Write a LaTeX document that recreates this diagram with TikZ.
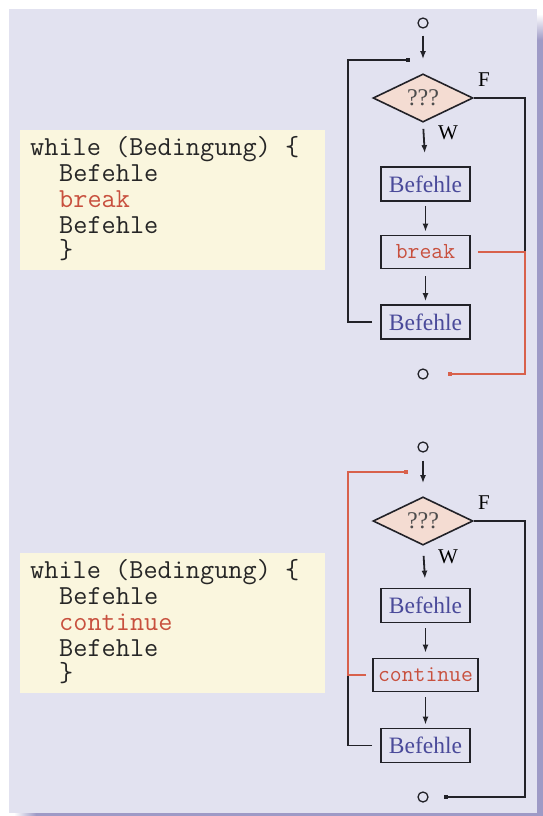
\documentclass[tikz,border=0pt]{standalone}
\usepackage{fontspec}
\setmainfont{Liberation Serif}
\usetikzlibrary{shapes.geometric,arrows.meta}

\definecolor{panelbg}{HTML}{E2E2F0}
\definecolor{shadowc}{HTML}{9E9AC6}
\definecolor{codebg}{HTML}{FAF6DE}
\definecolor{cmdblue}{HTML}{4A4A9A}
\definecolor{kwred}{HTML}{C8503E}
\definecolor{flowred}{HTML}{D8614C}
\definecolor{condfill}{HTML}{F4DCD2}
\definecolor{ink}{HTML}{222228}

\tikzset{
  codeline/.style={anchor=base west, inner sep=0pt, text=black!85,
                   font=\ttfamily\fontsize{27.5}{28}\selectfont},
  cmdbox/.style={draw=ink, line width=1.8pt, minimum width=89pt, minimum height=34pt, inner sep=0pt,
                 text=cmdblue, font=\fontsize{23.5}{23.5}\selectfont},
  kwbox/.style={draw=ink, line width=1.8pt, minimum height=33pt, inner sep=0pt,
                text=kwred, font=\ttfamily\fontsize{23}{23}\selectfont},
  cond/.style={diamond, draw=ink, line width=1.6pt, fill=condfill, minimum width=100pt,
               minimum height=41pt, inner sep=0pt, text=black!70, font=\fontsize{24}{24}\selectfont},
  terminal/.style={circle, draw=ink, line width=1.3pt, minimum size=10pt, inner sep=0pt},
  branch/.style={font=\fontsize{21}{21}\selectfont, inner sep=0pt},
  flow/.style={draw=ink, line width=1.8pt},
  flowarrow/.style={flow, -{Latex[length=8pt,width=6pt]}},
  endarrow/.style={-{Square[length=4pt,width=4pt]}},
  redflow/.style={draw=flowred, line width=1.6pt},
}

\begin{document}
\begin{tikzpicture}[x=1pt,y=-1pt]
  \useasboundingbox (0,0) rectangle (543,816);
  \fill[white] (0,0) rectangle (543,816);

  % drop shadow of the panel
  \shade[top color=white, bottom color=shadowc] (537,14) rectangle (543,40);
  \fill[shadowc] (537,40) rectangle (543,816);
  \shade[left color=white, right color=shadowc] (14,813) rectangle (36,816);
  \fill[shadowc] (36,813) rectangle (543,816);

  % panel
  \fill[panelbg] (9,9) rectangle (537,813);

  % code boxes
  \fill[codebg] (20,130) rectangle (325,270);
  \fill[codebg] (20,553) rectangle (325,693);

  \node[codeline] (ta) at (30,155) {while (Bedingung) \{};
  \node[codeline] (tb) at (59,181) {Befehle};
  \node[codeline, text=kwred] (tc) at (59,207) {break};
  \node[codeline] (td) at (59,233) {Befehle};
  \node[codeline] (te) at (59,258) {\}};

  \node[codeline] (ua) at (30,578) {while (Bedingung) \{};
  \node[codeline] (ub) at (59,604) {Befehle};
  \node[codeline, text=kwred] (uc) at (59,630) {continue};
  \node[codeline] (ud) at (59,656) {Befehle};
  \node[codeline] (ue) at (59,681) {\}};

  % ---------- loop with break ----------
  \node[terminal] (s1) at (423,23) {};
  \node[cond] (d1) at (423,98) {???};
  \node[cmdbox] (b1) at (425.5,184) {Befehle};
  \node[kwbox, minimum width=89pt] (k1) at (425.5,252) {break};
  \node[cmdbox] (b2) at (425.5,322) {Befehle};
  \node[terminal] (e1) at (423,374) {};
  \node[branch] (f1) at (484,80) {F};
  \node[branch] (w1) at (448,133) {W};
  \coordinate (j1) at (410,60);
  \coordinate (l1) at (348,60);
  \coordinate (r1) at (525,252);

  \draw[flowarrow, shorten <=7pt, shorten >=14pt] (s1) -- (d1.north);
  \draw[flowarrow, shorten <=6pt, shorten >=13pt] (d1.south) -- (b1.north);
  \draw[flowarrow, shorten <=4pt, shorten >=3pt] (b1.south) -- (k1.north);
  \draw[flowarrow, shorten <=7pt, shorten >=3pt] (k1.south) -- (b2.north);
  \draw[flow, endarrow, shorten <=8pt] (b2.west) -| (l1) -- (j1);
  \draw[flow] (d1.east) -| (r1);
  \draw[redflow, endarrow, shorten <=7pt, shorten >=19pt] (k1.east) -- (r1) |- (e1);

  % ---------- loop with continue ----------
  \node[terminal] (s2) at (423,447) {};
  \node[cond] (d2) at (423,521) {???};
  \node[cmdbox] (b3) at (425.5,605.5) {Befehle};
  \node[kwbox, minimum width=105pt] (c2) at (425.5,675) {continue};
  \node[cmdbox] (b4) at (425.5,745.5) {Befehle};
  \node[terminal] (e2) at (423,797) {};
  \node[branch] (f2) at (484,503) {F};
  \node[branch] (w2) at (448,557) {W};
  \coordinate (j2) at (408,472);
  \coordinate (l2) at (348,472);
  \coordinate (q2) at (348,675);
  \coordinate (r2) at (525,797);

  \draw[flowarrow, shorten <=8pt, shorten >=13pt] (s2) -- (d2.north);
  \draw[flowarrow, shorten <=10pt, shorten >=9pt] (d2.south) -- (b3.north);
  \draw[flowarrow, shorten <=5pt, shorten >=5pt] (b3.south) -- (c2.north);
  \draw[flowarrow, shorten <=5pt, shorten >=3pt] (c2.south) -- (b4.north);
  \draw[flow, shorten <=8pt] (b4.west) -| (q2);
  \draw[redflow, endarrow, shorten <=6pt] (c2.west) -| (l2) -- (j2);
  \draw[flow, endarrow, shorten >=15pt] (d2.east) -| (r2) -- (e2);
\end{tikzpicture}
\end{document}
